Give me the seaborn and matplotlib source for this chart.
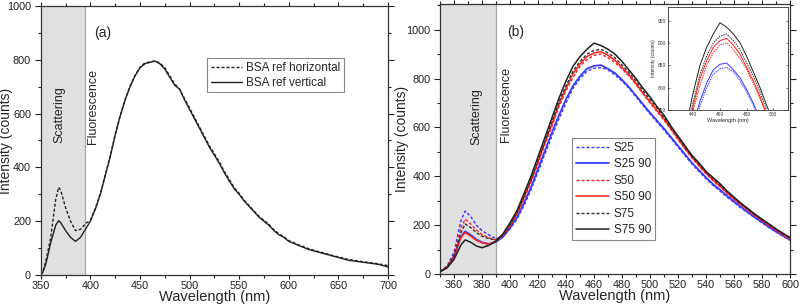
import numpy as np
import pandas as pd
import matplotlib
matplotlib.use("Agg")
import matplotlib.pyplot as plt
import seaborn as sns
from matplotlib.ticker import MultipleLocator

# ---- datos panel (a) ----
wl_a = [350, 352, 355, 360, 365, 368, 370, 375, 380, 385, 390, 395, 400, 405, 410, 415, 420,
        425, 430, 435, 440, 445, 450, 455, 460, 465, 470, 475, 480, 485, 490, 495, 500,
        505, 510, 515, 520, 525, 530, 535, 540, 545, 550, 555, 560, 565, 570, 575, 580,
        585, 590, 595, 600, 610, 620, 630, 640, 650, 660, 670, 680, 690, 700]
bsa_vert = [0, 10, 40, 120, 185, 202, 195, 165, 140, 125, 140, 170, 200, 245, 300, 370, 440,
            520, 590, 650, 700, 740, 770, 785, 790, 795, 785, 765, 735, 705, 690, 650, 615,
            580, 545, 510, 475, 445, 415, 380, 350, 320, 300, 275, 255, 235, 215, 200, 185,
            165, 150, 140, 125, 110, 95, 85, 75, 65, 55, 50, 45, 40, 30]
bsa_horiz = [0, 12, 50, 140, 280, 326, 315, 250, 200, 165, 170, 190, 205, 248, 302, 372, 442,
             522, 592, 652, 702, 742, 772, 788, 792, 795, 788, 770, 740, 710, 690, 655, 620,
             585, 550, 515, 480, 450, 420, 385, 355, 325, 303, 278, 258, 238, 218, 203, 188,
             168, 153, 142, 128, 112, 98, 87, 77, 67, 58, 52, 47, 42, 35]

# ---- datos panel (b) ----
wl_b = [350, 355, 360, 365, 368, 372, 376, 380, 385, 390] + list(range(395, 605, 5))
s75_90 = [10, 25, 60, 120, 140, 130, 115, 108, 118, 135,
          165, 210, 260, 330, 400, 480, 560, 640, 720, 790, 850, 890, 920, 945, 935, 920,
          900, 870, 835, 800, 760, 725, 685, 650, 605, 565, 525, 485, 455, 420, 395, 370,
          340, 315, 290, 268, 245, 225, 205, 185, 167, 150]
s75 = [12, 28, 75, 170, 205, 190, 170, 155, 145, 140,
       160, 200, 250, 315, 385, 465, 545, 625, 705, 770, 830, 870, 900, 915, 920, 905,
       885, 855, 825, 790, 750, 715, 680, 640, 600, 560, 520, 482, 450, 418, 390, 365,
       338, 312, 288, 265, 243, 222, 203, 183, 165, 148]
s50_90 = [10, 28, 70, 150, 170, 155, 138, 128, 122, 135,
          160, 200, 250, 315, 385, 460, 540, 615, 695, 760, 820, 860, 890, 905, 910, 895,
          875, 845, 815, 780, 740, 705, 670, 635, 595, 555, 515, 478, 445, 413, 385, 360,
          333, 308, 285, 262, 240, 220, 200, 180, 162, 145]
s50 = [12, 30, 80, 190, 225, 205, 180, 162, 148, 140,
       158, 195, 243, 305, 375, 450, 530, 605, 685, 750, 805, 850, 878, 895, 900, 885,
       865, 840, 810, 775, 738, 700, 665, 630, 590, 550, 512, 475, 442, 410, 382, 357,
       330, 305, 282, 260, 238, 218, 198, 178, 160, 143]
s25_90 = [10, 28, 72, 155, 175, 160, 142, 130, 123, 132,
          152, 188, 232, 290, 355, 430, 505, 580, 650, 715, 770, 810, 840, 852, 855, 840,
          822, 795, 765, 730, 695, 660, 628, 595, 560, 525, 490, 455, 425, 395, 368, 345,
          320, 297, 275, 253, 232, 213, 193, 174, 157, 140]
s25 = [12, 32, 90, 220, 258, 235, 200, 178, 160, 145,
       155, 185, 225, 280, 345, 418, 492, 565, 635, 700, 760, 800, 830, 842, 845, 835,
       815, 790, 760, 725, 690, 655, 622, 590, 555, 520, 485, 450, 420, 390, 363, 340,
       315, 293, 270, 250, 230, 210, 190, 172, 155, 138]

series_b = [("S25", s25, "#3a3aff", "dash", 1.0),
            ("S25 90", s25_90, "#3a3aff", "solid", 1.3),
            ("S50", s50, "#ff2020", "dash", 1.0),
            ("S50 90", s50_90, "#ff2020", "solid", 1.1),
            ("S75", s75, "#303030", "dash", 1.0),
            ("S75 90", s75_90, "#202020", "solid", 1.1)]

sns.set_theme(style="ticks")
plt.rcParams['font.family'] = ['Liberation Sans', 'DejaVu Sans']
plt.rcParams['axes.edgecolor'] = '#333333'
plt.rcParams['xtick.color'] = '#333333'
plt.rcParams['ytick.color'] = '#333333'

DASH = (0, (2.2, 1.4))

fig = plt.figure(figsize=(8, 3.08), dpi=100)
ax1 = fig.add_axes([0.051, 0.107, 0.434, 0.874])
ax2 = fig.add_axes([0.55, 0.110, 0.4375, 0.877])


def style_axes(ax, xmaj, xmin, ymaj, ymin, ylab_x):
    ax.xaxis.set_major_locator(MultipleLocator(xmaj))
    ax.xaxis.set_minor_locator(MultipleLocator(xmin))
    ax.yaxis.set_major_locator(MultipleLocator(ymaj))
    ax.yaxis.set_minor_locator(MultipleLocator(ymin))
    ax.tick_params(which='both', direction='out', top=True, right=True,
                   labelsize=7.8, width=0.8, colors='#222222')
    ax.tick_params(axis='y', which='major', length=4, pad=3)
    ax.tick_params(axis='y', which='minor', length=2.5)
    ax.tick_params(axis='x', which='major', length=3, pad=1.5)
    ax.tick_params(axis='x', which='minor', length=2)
    for s in ax.spines.values():
        s.set_linewidth(0.9)
    ax.set_xlabel("Wavelength (nm)", fontsize=10.5, labelpad=-1)
    ax.set_ylabel("Intensity (counts)", fontsize=10)
    ax.yaxis.set_label_coords(ylab_x, 0.5)


# ---- panel (a) ----
ax1.axvspan(350, 395, color='#e0e0e0', lw=0, zorder=0)
ax1.axvline(395, color='#a8a8a8', lw=0.9, zorder=0)
sns.lineplot(x=wl_a, y=bsa_horiz, ax=ax1, color='#222222', lw=1.0, linestyle=DASH,
             label="BSA ref horizontal")
sns.lineplot(x=wl_a, y=bsa_vert, ax=ax1, color='#222222', lw=1.0,
             label="BSA ref vertical")
ax1.set_xlim(350, 700)
ax1.set_ylim(0, 1000)
style_axes(ax1, 50, 25, 200, 100, -0.08)
ax1.text(369, 595, "Scattering", rotation=90, ha='center', va='center', fontsize=9)
ax1.text(403, 625, "Fluorescence", rotation=90, ha='center', va='center', fontsize=9)
ax1.text(404, 900, "(a)", fontsize=10, ha='left', va='center')
leg1 = ax1.legend(loc='upper left', bbox_to_anchor=(0.48, 0.805), fontsize=8.5,
                  frameon=True, fancybox=False, edgecolor='#888888', framealpha=1,
                  handlelength=2.6, borderpad=0.3, labelspacing=0.25, handletextpad=0.4,
                  borderaxespad=0)
leg1.get_frame().set_linewidth(0.8)

# ---- panel (b) ----
ax2.axvspan(350, 390, color='#e0e0e0', lw=0, zorder=0)
ax2.axvline(390, color='#a8a8a8', lw=0.9, zorder=0)
for name, vals, col, ls, lw in series_b:
    sns.lineplot(x=wl_b, y=vals, ax=ax2, color=col, lw=lw,
                 linestyle=DASH if ls == "dash" else '-', label=name)
ax2.set_xlim(350, 600)
ax2.set_ylim(0, 1105)
style_axes(ax2, 20, 10, 200, 100, -0.09)
ax2.text(376, 643, "Scattering", rotation=90, ha='center', va='center', fontsize=9)
ax2.text(397, 692, "Fluorescence", rotation=90, ha='center', va='center', fontsize=9)
ax2.text(398, 990, "(b)", fontsize=10, ha='left', va='center')
leg2 = ax2.legend(loc='upper left', bbox_to_anchor=(0.377, 0.505), fontsize=8.5,
                  frameon=True, fancybox=False, edgecolor='#888888', framealpha=1,
                  handlelength=2.8, borderpad=0.35, labelspacing=0.38, handletextpad=0.4,
                  borderaxespad=0)
leg2.get_frame().set_linewidth(0.8)

# ---- inset ----
axi = fig.add_axes([0.835, 0.643, 0.15, 0.334])
for name, vals, col, ls, lw in series_b:
    sns.lineplot(x=wl_b, y=vals, ax=axi, color=col, lw=0.7,
                 linestyle=(0, (1.5, 1.0)) if ls == "dash" else '-', legend=False)
axi.set_xlim(421, 511)
axi.set_ylim(750, 980)
axi.xaxis.set_major_locator(MultipleLocator(20))
axi.yaxis.set_major_locator(MultipleLocator(50))
axi.tick_params(direction='in', labelsize=3.5, length=1.5, width=0.5, pad=1.5, right=True)
for s in axi.spines.values():
    s.set_linewidth(0.6)
axi.set_xlabel("Wavelength (nm)", fontsize=4, labelpad=1)
axi.set_ylabel("Intensity (counts)", fontsize=3.5, labelpad=1)

fig.savefig("out.png", dpi=100)
